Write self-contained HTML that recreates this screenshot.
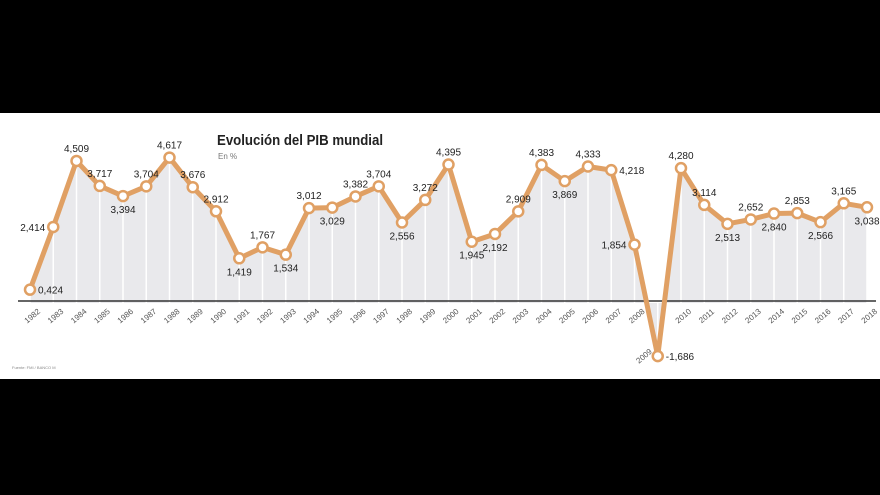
<!DOCTYPE html>
<html><head><meta charset="utf-8"><style>
html,body{margin:0;padding:0;background:#000;}
svg{display:block;font-family:"Liberation Sans",sans-serif;}
</style></head><body>
<svg id="chart" width="880" height="495" viewBox="0 0 880 495" xmlns="http://www.w3.org/2000/svg">
<rect x="0" y="0" width="880" height="495" fill="#000"/>
<rect x="0" y="113" width="880" height="266" fill="#fff"/>
<text x="217" y="145" font-size="15" font-weight="bold" fill="#222" textLength="166" lengthAdjust="spacingAndGlyphs">Evolución del PIB mundial</text>
<text x="218" y="159" font-size="8" fill="#777">En %</text>
<text x="12" y="369" font-size="4" fill="#888">Fuente: FMI / BANCO M</text>
<g id="area"></g><g id="grid"></g>
<line x1="18" y1="301" x2="876" y2="301" stroke="#333" stroke-width="1.5"/>
<g id="xlabels"></g><g id="line"></g><g id="pts"></g><g id="vals"></g>
</svg>
<script>
const years=[1982,1983,1984,1985,1986,1987,1988,1989,1990,1991,1992,1993,1994,1995,1996,1997,1998,1999,2000,2001,2002,2003,2004,2005,2006,2007,2008,2009,2010,2011,2012,2013,2014,2015,2016,2017,2018];
const values=[0.424,2.414,4.509,3.717,3.394,3.704,4.617,3.676,2.912,1.419,1.767,1.534,3.012,3.029,3.382,3.704,2.556,3.272,4.395,1.945,2.192,2.909,4.383,3.869,4.333,4.218,1.854,-1.686,4.280,3.114,2.513,2.652,2.840,2.853,2.566,3.165,3.038];
const labelSide=['r','l','a','a','b','a','a','a','a','b','a','b','a','b','a','a','b','a','a','b','b','a','a','b','a','r','l','r','a','a','b','a','b','a','b','a','b'];
const NS="http://www.w3.org/2000/svg";
const X=i=>30+i*23.25;
const Y=v=>303-v*31.5;
function mk(t,a,p){const e=document.createElementNS(NS,t);for(const k in a)e.setAttribute(k,a[k]);document.getElementById(p).appendChild(e);return e;}
let d='M'+X(0)+','+Y(0);
values.forEach((v,i)=>d+=' L'+X(i)+','+Y(v));
d+=' L'+X(values.length-1)+','+Y(0)+' Z';
const ar=mk('path',{d:d,fill:'#e9e9ec'},'area');


values.forEach((v,i)=>{
 const g=mk('line',{x1:X(i),x2:X(i),y1:Y(0),y2:Y(v),stroke:'#fff','stroke-width':1.5},'grid');
 
 
});
const pl=mk('polyline',{points:values.map((v,i)=>X(i)+','+Y(v)).join(' '),fill:'none',stroke:'#e0a064','stroke-width':5,'stroke-linejoin':'round'},'line');


values.forEach((v,i)=>{
 const c=mk('circle',{cx:X(i),cy:Y(v),r:5,fill:'#fff',stroke:'#e0a064','stroke-width':2.5},'pts');
 
 
 const s=labelSide[i];let x=X(i),y=Y(v),anc='middle';
 if(s==='a'){y-=9;}else if(s==='b'){y+=17;}else if(s==='l'){x-=8;y+=4;anc='end';}else{x+=8;y+=4;anc='start';}
 const t=mk('text',{x:x,y:y,'font-size':10,fill:'#222','text-anchor':anc},'vals');
 t.textContent=v.toFixed(3).replace('.',',');
 
 
 const neg=v<0;
 const lx=neg?X(i)-12:X(i)+4, ly=neg?Y(v)+2:318;
 const yl=mk('text',{x:lx,y:ly,'font-size':8,fill:'#555','text-anchor':'middle',transform:'rotate(-40 '+lx+' '+ly+')'},'xlabels');
 yl.textContent=years[i];
 
 
});
</script>
</body></html>
